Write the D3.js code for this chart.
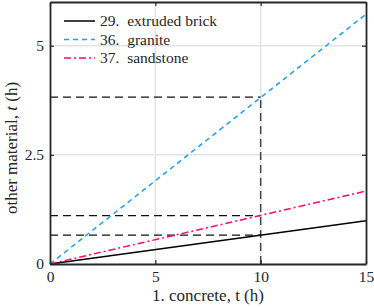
<!DOCTYPE html>
<html>
<head>
<meta charset="utf-8">
<script src="https://cdn.jsdelivr.net/npm/d3@7"></script>
<style>
  body { margin: 0; background: #fff; }
</style>
</head>
<body>
<div id="chart"></div>
<script>
// concrete time (h)
const xValues = [0, 15]
const seriesNames = ['29.  extruded brick', '36.  granite', '37.  sandstone']
const brick = [0, 0.99]
const granite = [0, 5.72]
const sandstone = [0, 1.67]
// reference read-off at concrete t = 10 h
const refX = 10
const refValues = [0.66, 3.82, 1.11]
const xTicks = [0, 5, 10, 15]
const yTicks = [0, 2.5, 5]

const FONT = '"Liberation Serif", "Times New Roman", serif'

function draw_chart() {
    const width = 374, height = 307
    const margins = {'left': 50, 'right': 8, 'top': 2, 'bottom': 43}

    const svg = d3.select('#chart').append('svg')
        .attr('width', width).attr('height', height)
        .attr('font-family', FONT)

    const x = d3.scaleLinear().domain([0, 15]).range([margins.left, width - margins.right])
    const y = d3.scaleLinear().domain([0, 6]).range([height - margins.bottom, margins.top])

    // grid
    svg.selectAll('.vgrid').data(xTicks.slice(1, -1)).join('line')
        .attr('x1', d => x(d)).attr('x2', d => x(d))
        .attr('y1', y(0)).attr('y2', y(6))
        .attr('stroke', '#e3e3e3').attr('stroke-width', 1.5)
    svg.selectAll('.hgrid').data(yTicks.slice(1)).join('line')
        .attr('x1', x(0)).attr('x2', x(15))
        .attr('y1', d => y(d)).attr('y2', d => y(d))
        .attr('stroke', '#e3e3e3').attr('stroke-width', 1.5)

    // reference dashed lines
    const refG = svg.append('g')
    refG.selectAll('line.h').data(refValues).join('line')
        .attr('x1', x(0)).attr('x2', x(refX))
        .attr('y1', d => y(d)).attr('y2', d => y(d))
        .attr('stroke', '#111').attr('stroke-width', 1.2).attr('stroke-dasharray', '8,5')
    refG.append('line')
        .attr('x1', x(refX)).attr('x2', x(refX))
        .attr('y1', y(0)).attr('y2', y(d3.max(refValues)))
        .attr('stroke', '#444').attr('stroke-width', 1.5).attr('stroke-dasharray', '8,5')

    const series = [
        {'name': seriesNames[0], 'values': brick, 'color': '#000000', 'dash': null},
        {'name': seriesNames[1], 'values': granite, 'color': '#1a9ff0', 'dash': '5,4'},
        {'name': seriesNames[2], 'values': sandstone, 'color': '#ff0a6c', 'dash': '7,3,2,3'}
    ]

    const line = d3.line().x((d, i) => x(xValues[i])).y(d => y(d))
    svg.selectAll('path.series').data(series).join('path')
        .attr('d', d => line(d.values))
        .attr('fill', 'none')
        .attr('stroke', d => d.color)
        .attr('stroke-width', 1.5)
        .attr('stroke-dasharray', d => d.dash)

    // axes (box with inward ticks)
    const axisColor = '#262626'
    const bottom = svg.append('g').attr('transform', `translate(0,${y(0)})`)
        .call(d3.axisBottom(x).tickValues(xTicks).tickSizeInner(-4).tickSizeOuter(0).tickPadding(7))
    const left = svg.append('g').attr('transform', `translate(${x(0)},0)`)
        .call(d3.axisLeft(y).tickValues(yTicks).tickFormat(d3.format('')).tickSizeInner(-4).tickSizeOuter(0).tickPadding(6))
    const top = svg.append('g').attr('transform', `translate(0,${y(6)})`)
        .call(d3.axisTop(x).tickValues(xTicks).tickSizeInner(-4).tickSizeOuter(0).tickFormat(''))
    const right = svg.append('g').attr('transform', `translate(${x(15)},0)`)
        .call(d3.axisRight(y).tickValues(yTicks).tickSizeInner(-4).tickSizeOuter(0).tickFormat(''))
    ;[bottom, left, top, right].forEach(g => {
        g.attr('font-family', FONT).attr('font-size', 15.5)
        g.select('.domain').attr('stroke', axisColor).attr('stroke-width', 1.8)
        g.selectAll('.tick line').attr('stroke', axisColor).attr('stroke-width', 1.2)
        g.selectAll('.tick text').attr('fill', axisColor)
    })

    // axis labels
    svg.append('text').attr('x', x(7.5)).attr('y', 301)
        .attr('text-anchor', 'middle').attr('font-size', 17).attr('fill', axisColor)
        .text('1.  concrete, t (h)')
    const yl = svg.append('text')
        .attr('transform', 'translate(17,148) rotate(-90)')
        .attr('text-anchor', 'middle').attr('font-size', 17).attr('fill', axisColor)
    yl.append('tspan').text('other material, ')
    yl.append('tspan').attr('font-style', 'italic').text('t')
    yl.append('tspan').text(' (h)')

    // legend
    const legend = svg.selectAll('g.legend').data(series).join('g')
        .attr('transform', (d, i) => `translate(64,${21 + i * 18.5})`)
    legend.append('line').attr('x1', 0).attr('x2', 31).attr('y1', 0).attr('y2', 0)
        .attr('stroke', d => d.color).attr('stroke-width', 1.5)
        .attr('stroke-dasharray', d => d.dash)
    legend.append('text').attr('x', 36).attr('y', 5).attr('font-size', 15.5)
        .attr('fill', axisColor)
        .style('white-space', 'pre').text(d => d.name)
}

draw_chart()
</script>
</body>
</html>
